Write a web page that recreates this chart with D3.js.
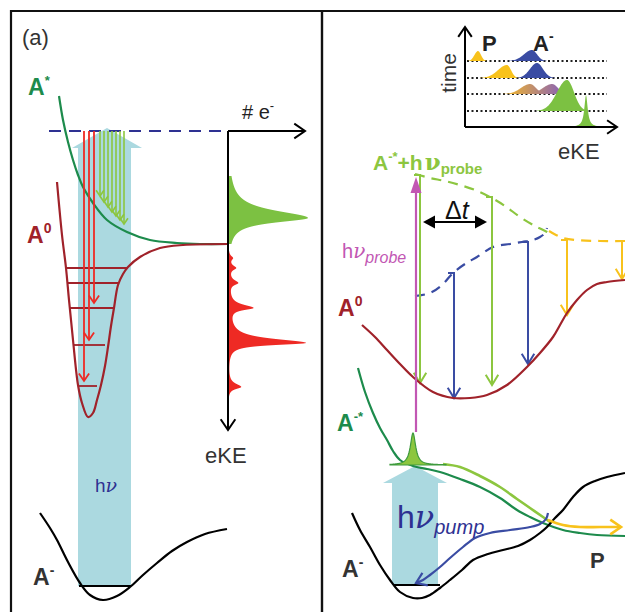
<!DOCTYPE html>
<html>
<head>
<meta charset="utf-8">
<script src="https://cdn.jsdelivr.net/npm/d3@7"></script>
<style>
  body { margin: 0; background: #fff; }
  svg { display: block; }
  text { font-family: "Liberation Sans", Arial, sans-serif; }
</style>
</head>
<body>
<div id="chart"></div>
<script>
// ---- values (picture units) ----

// panel (a) potential curves
var aStarA = [[59,96],[63,120],[68,142],[73,160],[78,175],[83,187],[93,203],[107,220],[127,232],[150,240],[177,243],[200,244],[228,244]];
var aZeroA = [[57,182],[62,235],[66,268],[69,300],[73,340],[78,385],[82,403],[88,417],[93,413],[97,400],[101,385],[105,366],[108,347],[111,326],[114,308],[118,285],[123,274],[128,267],[140,257],[160,248],[183,245],[228,244]];
var aMinusA = [[40,513],[50,528],[57,540],[68,562],[80,583],[90,595],[103,600],[117,596],[130,587],[143,575],[157,563],[172,551],[187,542],[205,534],[227,529]];
var rungLevels = [268, 283, 308, 345, 386];
var rungLeft   = [65, 67, 70, 74, 78];
var rungRight  = [128, 118, 113, 105, 97];
var redX    = [84, 89, 94];
var redTip  = [381, 340, 303];
var greenX   = [100, 104, 108, 112, 116, 120, 124];
var greenTip = [196, 202, 207, 212, 216, 220, 224];
var detachLevel = 131;
// spectrum peaks: [centre, height, width above, width below]
var greenPeaks = [[218, 80, 9, 5.5]];
var redPeaks = [[258, 4, 2.5, 2.5], [268, 7, 3, 2.5], [283, 9, 3.5, 2.5], [308, 24, 4, 2.5], [343, 78, 5, 2.5], [387, 13, 4, 2.5]];

// panel (b) potential curves
var aZeroB = [[362,325],[375,337],[387,350],[400,364],[413,377],[433,392],[453,398],[470,398],[487,395],[507,385],[527,367],[540,353],[553,337],[560,325],[567,313],[577,300],[587,290],[597,284],[607,282],[625,280]];
var probeDash = [[415,174],[430,178],[445,181],[460,185],[475,190],[490,197],[505,206],[520,217],[535,226],[547,232],[553,236]];
var yellowDash = [[549,231],[556,235],[563,238],[575,240],[600,241],[625,241]];
var blueDash = [[415,296],[430,293],[442,285],[453,273],[465,264],[477,257],[493,247],[510,244],[522,242],[533,240],[540,237],[545,233],[547,228]];
var aStarB = [[358,368],[365,392],[373,413],[380,428],[387,440],[393,451],[400,460],[413,466],[427,469],[440,472],[460,479],[480,487],[500,498],[517,510],[530,517],[543,523],[563,530],[580,533],[597,535],[625,536]];
var aMinusB = [[352,513],[360,530],[370,547],[380,565],[390,580],[400,592],[413,598],[422,598],[430,595],[440,588],[450,580],[462,570],[473,560],[488,554],[503,550],[518,546],[530,540],[540,533],[547,527],[555,518],[563,510],[573,497],[583,487],[595,481],[607,477],[625,473]];
var packetPath = [[443,464],[460,467],[480,476],[500,487],[517,499],[530,508],[543,517],[550,522]];
var returnPath = [[548,513],[546,519],[540,524],[530,527],[510,530],[490,533],[475,538],[463,547],[450,558],[440,567],[430,575],[423,580],[416,583]];
var productPath = [[548,520],[563,525],[580,527],[600,527],[621,527]];
var probeLines = [
  {x: 420, top: 175, tip: 383, color: '#8cc63f'},
  {x: 454, top: 273, tip: 398, color: '#3a4ca3'},
  {x: 492, top: 197, tip: 385, color: '#8cc63f'},
  {x: 528, top: 242, tip: 364, color: '#3a4ca3'},
  {x: 567, top: 240, tip: 315, color: '#f8c21c'},
  {x: 622, top: 241, tip: 279, color: '#f8c21c'}
];
var wavePacket = [413, 32, 3.2]; // centre, height, width

// inset: baselines (axis first) and peaks
var insetRows = [127, 111, 94, 78, 61];
var insetPeaks = [
  {row: 4, c: 478, h: 10, wl: 3.5, wr: 3, color: '#f8c21c'},
  {row: 4, c: 532, h: 11, wl: 8, wr: 5, color: '#3a4ca3'},
  {row: 3, c: 507, h: 13, wl: 9, wr: 4, color: '#f8c21c'},
  {row: 3, c: 537, h: 15, wl: 7, wr: 6, color: '#3a4ca3'},
  {row: 2, c: 530, h: 10, wl: 9, wr: 6, c2: 552, color: 'url(#mix)'},
  {row: 1, c: 567, h: 31, wl: 10, wr: 7, color: '#7cc142'},
  {row: 0, c: 586, h: 32, lor: 2, color: '#7cc142'}
];

// ---- drawing ----
var width = 625, height = 612;
var x = d3.scaleLinear().domain([0, 625]).range([0, width]);
var y = d3.scaleLinear().domain([0, 612]).range([0, height]);

var svg = d3.select('#chart').append('svg')
    .attr('width', width)
    .attr('height', height);

var defs = svg.append('defs');
var grad = defs.append('linearGradient').attr('id', 'mix')
    .attr('gradientUnits', 'userSpaceOnUse')
    .attr('x1', x(512)).attr('x2', x(562)).attr('y1', 0).attr('y2', 0);
grad.append('stop').attr('offset', '0%').attr('stop-color', '#e6ad3a');
grad.append('stop').attr('offset', '100%').attr('stop-color', '#8a63b6');

var line = d3.line()
    .x(function(d) { return x(d[0]); })
    .y(function(d) { return y(d[1]); })
    .curve(d3.curveCatmullRom.alpha(0.5));
var straight = d3.line()
    .x(function(d) { return x(d[0]); })
    .y(function(d) { return y(d[1]); });

function curve(pts, color, w, dash) {
  return svg.append('path')
    .attr('d', line(pts))
    .attr('fill', 'none')
    .attr('stroke', color)
    .attr('stroke-width', w)
    .attr('stroke-dasharray', dash || null);
}

function seg(pts, color, w) {
  return svg.append('path')
    .attr('d', straight(pts))
    .attr('fill', 'none')
    .attr('stroke', color)
    .attr('stroke-width', w);
}

// open V head, ang = direction of travel
function vHead(tx, ty, ang, color, w, len, spread) {
  len = len || 9; spread = spread || 0.55;
  var a1 = ang + Math.PI - spread, a2 = ang + Math.PI + spread;
  seg([[tx + len * Math.cos(a1), ty + len * Math.sin(a1)], [tx, ty],
       [tx + len * Math.cos(a2), ty + len * Math.sin(a2)]], color, w)
    .attr('stroke-linejoin', 'miter');
}

function solidHead(tx, ty, ang, color, len, half) {
  var bx = tx - len * Math.cos(ang), by = ty - len * Math.sin(ang);
  var nx = -Math.sin(ang) * half, ny = Math.cos(ang) * half;
  svg.append('path')
    .attr('d', straight([[tx, ty], [bx + nx, by + ny], [bx - nx, by - ny]]) + 'Z')
    .attr('fill', color);
}

function label(px, py, parts, fill, size, weight) {
  var t = svg.append('text')
    .attr('x', x(px)).attr('y', y(py))
    .attr('fill', fill)
    .attr('font-size', size)
    .attr('font-weight', weight || 'normal');
  parts.forEach(function(p) {
    var s = t.append('tspan').text(p.t);
    if (p.size) s.attr('font-size', p.size);
    if (p.dy) s.attr('dy', p.dy);
    if (p.dx) s.attr('dx', p.dx);
    if (p.it) s.attr('font-style', 'italic');
    if (p.fam) s.attr('font-family', p.fam);
    if (p.w) s.attr('font-weight', p.w);
  });
  return t;
}

function lor(v, c, h, wUp, wDn) {
  var w = v < c ? wUp : wDn;
  var d = (v - c) / w;
  return h / (1 + d * d);
}

// big light-blue photon arrows
function fatArrow(x0, x1, bottom, headY, hx0, hx1, tipY, color) {
  var cx = (hx0 + hx1) / 2;
  svg.append('path')
    .attr('d', straight([[x0, bottom], [x0, headY], [hx0, headY], [cx, tipY], [hx1, headY], [x1, headY], [x1, bottom]]) + 'Z')
    .attr('fill', color);
}

// ===== panel (a) =====
fatArrow(78, 131, 586, 148, 72, 142, 128, '#abd9e0');

seg([[49, detachLevel], [228, detachLevel]], '#2e3192', 2).attr('stroke-dasharray', '12,8');

greenX.forEach(function(gx, i) {
  seg([[gx, detachLevel], [gx, greenTip[i]]], '#8cc63f', 1.6);
  vHead(gx, greenTip[i], Math.PI / 2, '#8cc63f', 1.6, 7, 0.6);
});

curve(aStarA, '#1d8b4c', 2.2);

rungLevels.forEach(function(lv, i) {
  seg([[rungLeft[i], lv], [rungRight[i], lv]], '#a0222a', 1.8);
});

redX.forEach(function(rx, i) {
  seg([[rx, detachLevel], [rx, redTip[i]]], '#ee2a24', 1.8);
  vHead(rx, redTip[i], Math.PI / 2, '#ee2a24', 1.8, 9, 0.6);
});

curve(aZeroA, '#a0222a', 2.2);

// spectrum
var specAxis = 228;
var gY = d3.range(176, 244.01, 0.5);
var rY = d3.range(251, 398.01, 0.5);
var specArea = function(peaks) {
  return d3.area()
    .y(function(d) { return y(d); })
    .x0(x(specAxis))
    .x1(function(d) {
      return x(specAxis + d3.sum(peaks, function(p) { return lor(d, p[0], p[1], p[2], p[3]); }));
    });
};
svg.append('path').attr('d', specArea(greenPeaks)(gY)).attr('fill', '#7cc142');
svg.append('path').attr('d', specArea(redPeaks)(rY)).attr('fill', '#ee2a24');

seg([[specAxis, detachLevel], [305, detachLevel]], '#000', 2);
vHead(305, detachLevel, 0, '#000', 2, 13, 0.6);
seg([[specAxis, detachLevel], [specAxis, 430]], '#000', 2);
vHead(specAxis, 430, Math.PI / 2, '#000', 2, 13, 0.6);

curve(aMinusA, '#000', 2.2);
seg([[79, 586], [131, 586]], '#000', 1.8);

label(22, 45, [{t: '(a)'}], '#333', 22);
label(28, 95, [{t: 'A'}, {t: '*', size: 13, dy: -10}], '#1d8b4c', 23, 'bold');
label(27, 243, [{t: 'A'}, {t: '0', size: 14, dy: -10}], '#a0222a', 23, 'bold');
label(242, 119, [{t: '# e'}, {t: '-', size: 13, dy: -9}], '#222', 20);
label(205, 463, [{t: 'eKE'}], '#333', 22);
label(95, 492, [{t: 'h'}, {t: 'ν', fam: 'DejaVu Serif', it: true}], '#2e3192', 19);
label(33, 585, [{t: 'A'}, {t: '-', size: 14, dy: -10}], '#333', 23, 'bold');

// ===== panel (b) =====
fatArrow(392, 438, 585, 483, 383, 447, 466, '#abd9e0');

// inset
insetRows.slice(1).forEach(function(r) {
  seg([[467, r], [607, r]], '#222', 2).attr('stroke-dasharray', '2,2.5');
});
insetPeaks.slice().sort(function(a, b) { return b.row - a.row; }).forEach(function(p) {
  var base = insetRows[p.row];
  var span = p.lor ? [p.c - 17, p.c + 20] : [p.c - 3 * p.wl, (p.c2 || p.c) + 3 * p.wr];
  var xs = d3.range(span[0], span[1] + 0.01, 0.5);
  var f = function(v) {
    if (p.lor) return lor(v, p.c, p.h, p.lor, p.lor);
    var g = function(c) { var w = v < c ? p.wl : p.wr; var d = (v - c) / w; return p.h * Math.exp(-0.5 * d * d); };
    return p.c2 ? Math.max(g(p.c), g(p.c2)) : g(p.c);
  };
  svg.append('path')
    .attr('d', d3.area().x(function(v) { return x(v); }).y0(y(base)).y1(function(v) { return y(base - f(v)); })(xs))
    .attr('fill', p.color);
});
seg([[465, 127], [465, 27]], '#000', 2);
vHead(465, 27, -Math.PI / 2, '#000', 2, 12, 0.6);
seg([[465, 127], [617, 127]], '#000', 2);
vHead(617, 127, 0, '#000', 2, 12, 0.6);

svg.append('text')
  .attr('transform', 'translate(' + x(456) + ',' + y(73) + ') rotate(-90)')
  .attr('text-anchor', 'middle')
  .attr('font-size', 21).attr('fill', '#333').text('time');
label(482, 51, [{t: 'P'}], '#222', 22, 'bold');
label(533, 51, [{t: 'A'}, {t: '-', size: 14, dy: -10}], '#222', 22, 'bold');
label(558, 159, [{t: 'eKE'}], '#333', 22);

// probe surfaces
curve(probeDash, '#8cc63f', 2.2, '10,7');
curve(yellowDash, '#f8c21c', 2.2, '10,7');
curve(blueDash, '#3a4ca3', 2.2, '10,7');

probeLines.forEach(function(p) {
  seg([[p.x - 6, p.top], [p.x, p.top], [p.x, p.tip]], p.color, 2);
  vHead(p.x, p.tip, Math.PI / 2, p.color, 2, 12, 0.55);
});

curve(aZeroB, '#a0222a', 2.2);

// probe photon
seg([[416, 432], [416, 190]], '#c257b3', 2.2);
solidHead(416, 177, -Math.PI / 2, '#c257b3', 16, 5.5);

// delta t
seg([[432, 222], [478, 222]], '#000', 2.2);
solidHead(423, 222, Math.PI, '#000', 12, 6.5);
solidHead(487, 222, 0, '#000', 12, 6.5);
label(445, 219, [{t: 'Δ'}, {t: 't', it: true}], '#111', 25).attr('font-family', 'Liberation Serif, serif');

// anion excited state and trajectories
curve(aStarB, '#1d8b4c', 2.2);
curve(packetPath, '#8cc63f', 2.6);
var wpX = d3.range(390, 446.01, 0.5);
svg.append('path')
  .attr('d', d3.area().x(function(v) { return x(v); }).y0(y(465))
    .y1(function(v) { return y(465 - lor(v, wavePacket[0], wavePacket[1], wavePacket[2], wavePacket[2])); })(wpX))
  .attr('fill', '#8cc63f').attr('stroke', '#3d9a3d').attr('stroke-width', 1.2);

curve(aMinusB, '#000', 2.2);
seg([[393, 585], [440, 585]], '#000', 1.8);

curve(returnPath, '#3a4ca3', 2.2);
var rp = returnPath.slice(-2);
vHead(rp[1][0], rp[1][1], Math.atan2(rp[1][1] - rp[0][1], rp[1][0] - rp[0][0]), '#3a4ca3', 2.2, 12, 0.6);
curve(productPath, '#f8c21c', 2.6);
vHead(621, 527, 0, '#f8c21c', 2.6, 13, 0.6);

label(373, 170, [{t: 'A'}, {t: '-*', size: 13, dy: -9}, {t: '+h', dy: 9}, {t: 'ν', size: 23, fam: 'DejaVu Serif', dx: 2},
  {t: 'probe', size: 15, dy: 4}], '#8cc63f', 21, 'bold');
label(342, 258, [{t: 'h'}, {t: 'ν', fam: 'DejaVu Serif', it: true}, {t: 'probe', size: 16, it: true, dy: 5}], '#c257b3', 20);
label(338, 316, [{t: 'A'}, {t: '0', size: 14, dy: -10}], '#a0222a', 23, 'bold');
label(337, 431, [{t: 'A'}, {t: '-*', size: 13, dy: -10}], '#1d8b4c', 23, 'bold');
label(397, 528, [{t: 'h'}, {t: 'ν', fam: 'DejaVu Serif', it: true}, {t: 'pump', size: 20, it: true, dy: 6}], '#2e3192', 32);
label(342, 577, [{t: 'A'}, {t: '-', size: 14, dy: -10}], '#333', 23, 'bold');
label(590, 568, [{t: 'P'}], '#333', 22, 'bold');

// frame
seg([[10, 11], [625, 11]], '#111', 2.2);
seg([[11, 10], [11, 612]], '#111', 2.2);
seg([[322, 10], [322, 612]], '#111', 2.4);
</script>
</body>
</html>
